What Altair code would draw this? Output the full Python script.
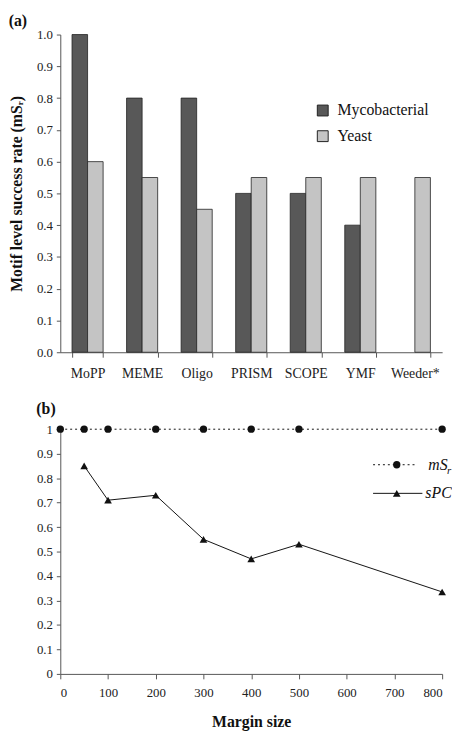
import altair as alt
import pandas as pd

# ---- Panel (a) data ----
methods = ["MoPP", "MEME", "Oligo", "PRISM", "SCOPE", "YMF", "Weeder*"]
groups = ["Mycobacterial", "Yeast"]
myco = [1.0, 0.8, 0.8, 0.5, 0.5, 0.4, None]
yeast = [0.6, 0.55, 0.45, 0.55, 0.55, 0.55, 0.55]
bar_colors = ["#585858", "#c4c4c4"]

# ---- Panel (b) data ----
margins = [0, 50, 100, 200, 300, 400, 500, 800]
msr = [1, 1, 1, 1, 1, 1, 1, 1]
spc_margins = [50, 100, 200, 300, 400, 500, 800]
spc = [0.85, 0.71, 0.73, 0.55, 0.47, 0.53, 0.335]

FONT = "Liberation Serif"

rows = []
for m, a, b in zip(methods, myco, yeast):
    if a is not None:
        rows.append({"method": m, "group": groups[0], "value": a})
    if b is not None:
        rows.append({"method": m, "group": groups[1], "value": b})
df_a = pd.DataFrame(rows)

axis_common = dict(
    labelFont=FONT, titleFont=FONT, labelColor="#222", titleColor="#111",
    domainColor="#555", tickColor="#555", grid=False, titleFontWeight="bold",
    titleFontSize=16,
)

bars = alt.Chart(df_a).mark_bar(stroke="#222", strokeWidth=0.8).encode(
    x=alt.X("method:N", sort=methods, title=None,
            scale=alt.Scale(paddingInner=0.43, paddingOuter=0.215),
            axis=alt.Axis(labelAngle=0, labelFontSize=14, tickBand="extent",
                          tickSize=5, labelPadding=10, **axis_common)),
    xOffset=alt.XOffset("group:N", sort=groups),
    y=alt.Y("value:Q", scale=alt.Scale(domain=[0, 1]),
            title="Motif level success rate (mSᵣ)",
            axis=alt.Axis(values=[i / 10 for i in range(11)], format=".1f",
                          labelFontSize=13, tickSize=4, labelPadding=4,
                          titlePadding=12, **axis_common)),
    color=alt.Color("group:N", sort=groups,
                    scale=alt.Scale(domain=groups, range=bar_colors),
                    legend=alt.Legend(title=None, orient="none", legendX=258,
                                      legendY=69, symbolType="square",
                                      symbolSize=121, symbolStrokeColor="#222",
                                      symbolStrokeWidth=1, labelFont=FONT,
                                      labelFontSize=16, labelColor="#111",
                                      rowPadding=10, labelOffset=7)),
).properties(
    width=387, height=322,
    title=alt.TitleParams("(a)", anchor="start", frame="bounds", font=FONT,
                          fontSize=16, fontWeight="bold", color="#111", offset=0),
)

# ---- Panel (b) ----
df_msr = pd.DataFrame({"margin": margins, "value": msr})
df_spc = pd.DataFrame({"margin": spc_margins, "value": spc})

xb = alt.X("margin:Q", scale=alt.Scale(domain=[0, 800]), title="Margin size",
           axis=alt.Axis(values=list(range(0, 801, 100)), labelFontSize=13,
                         tickSize=5, labelPadding=8, titlePadding=14,
                         **axis_common))
yb = alt.Y("value:Q", scale=alt.Scale(domain=[0, 1]), title=None,
           axis=alt.Axis(values=[i / 10 for i in range(11)], format=".1~f",
                         labelFontSize=13, tickSize=4, labelPadding=4,
                         **axis_common))

line_msr = alt.Chart(df_msr).mark_line(color="#111", strokeWidth=1,
                                       strokeDash=[2, 3]).encode(x=xb, y=yb)
pts_msr = alt.Chart(df_msr).mark_point(shape="circle", filled=True, size=55,
                                       color="#111", opacity=1).encode(x=xb, y=yb)
line_spc = alt.Chart(df_spc).mark_line(color="#111", strokeWidth=1).encode(x=xb, y=yb)
pts_spc = alt.Chart(df_spc).mark_point(shape="triangle-up", filled=True, size=60,
                                       color="#111", opacity=1).encode(x=xb, y=yb)

leg_df = pd.DataFrame({"k": [0]})
leg1_line = alt.Chart(leg_df).mark_rule(color="#111", strokeWidth=1, strokeDash=[2, 3]).encode(
    x=alt.value(317), x2=alt.value(360), y=alt.value(36))
leg1_pt = alt.Chart(leg_df).mark_point(shape="circle", filled=True, size=55,
                                       color="#111", opacity=1).encode(
    x=alt.value(341), y=alt.value(36))
leg1_txt = alt.Chart(leg_df).mark_text(text="mS", font=FONT, fontStyle="italic",
                                       fontSize=16, align="left", baseline="middle",
                                       color="#111").encode(x=alt.value(373), y=alt.value(36))
leg1_sub = alt.Chart(leg_df).mark_text(text="r", font=FONT, fontStyle="italic",
                                       fontSize=11, align="left", baseline="middle",
                                       color="#111").encode(x=alt.value(392), y=alt.value(42))
leg2_line = alt.Chart(leg_df).mark_rule(color="#111", strokeWidth=1).encode(
    x=alt.value(317), x2=alt.value(367), y=alt.value(65))
leg2_pt = alt.Chart(leg_df).mark_point(shape="triangle-up", filled=True, size=60,
                                       color="#111", opacity=1).encode(
    x=alt.value(341), y=alt.value(65))
leg2_txt = alt.Chart(leg_df).mark_text(text="sPC", font=FONT, fontStyle="italic",
                                       fontSize=16, align="left", baseline="middle",
                                       color="#111").encode(x=alt.value(370), y=alt.value(65))

panel_b = alt.layer(line_msr, line_spc, pts_msr, pts_spc,
                    leg1_line, leg1_pt, leg1_txt, leg1_sub,
                    leg2_line, leg2_pt, leg2_txt).properties(
    width=387, height=248,
    title=alt.TitleParams("(b)", anchor="start", frame="bounds", font=FONT,
                          fontSize=16, fontWeight="bold", color="#111", offset=6),
)

chart = alt.vconcat(bars, panel_b, spacing=21).properties(
    padding={"left": 0, "top": 0, "right": 0, "bottom": 0}
).configure(font=FONT).configure_view(stroke=None)

chart.save("out.html", embed_options={"renderer": "svg", "actions": False})
